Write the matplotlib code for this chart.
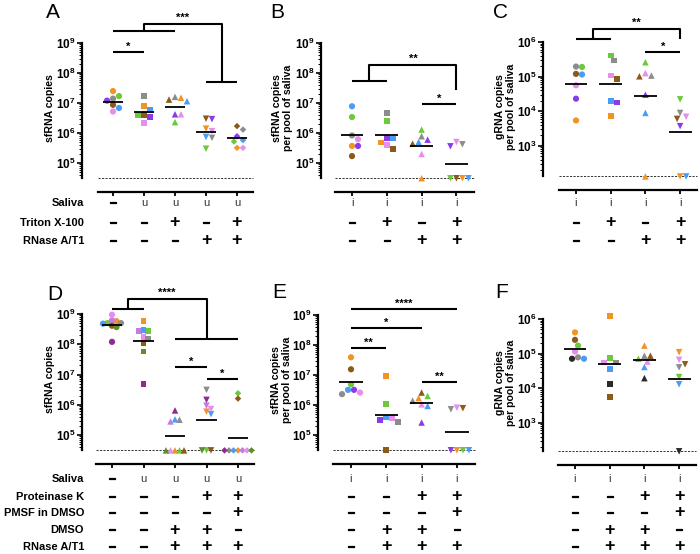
import numpy as np
import matplotlib.pyplot as plt
import matplotlib.patheffects as pe
from matplotlib import transforms
from matplotlib.ticker import LogLocator, FuncFormatter, NullFormatter

plt.rcParams['font.family'] = ['Liberation Sans', 'DejaVu Sans']
plt.rcParams['mathtext.fontset'] = 'custom'
plt.rcParams['mathtext.rm'] = 'Liberation Sans:bold'
plt.rcParams['mathtext.bf'] = 'Liberation Sans:bold'

W, H = 700, 554

# donor colours
grey, brown, orange, green = '#8c8c8c', '#8b5a1a', '#f39324', '#6dc93c'
purple, blue, pink = '#8a3de6', '#4b9cf4', '#e68ded'
violet, olive, magenta, dark = '#c27ce2', '#5f8f2c', '#8f2a90', '#2a2a2a'

donors7 = [grey, brown, orange, green, purple, blue, pink]
donors7_f = [grey, brown, orange, green, dark, blue, pink]
donors9 = [orange, green, violet, blue, pink, grey, brown, olive, magenta]

# detection limits (dashed lines)
lod_A, lod_B, lod_C = 3.1e4, 3.1e4, 1.3e2
lod_D, lod_E, lod_F = 3.1e4, 3.1e4, 1.5e2

# A: sfRNA copies
A_vals = [
    [1.4e7, 8.7e6, 2.5e7, 1.7e7, 1.2e7, 6.8e6, 5.2e6],
    [1.7e7, 3.9e6, 7.8e6, 3.9e6, 3.4e6, 5.8e6, 2.2e6],
    [1.6e7, 1.3e7, 1.5e7, 2.3e6, 4.2e6, 1.15e7, 4.2e6],
    [6.9e5, 3.0e6, 1.4e6, 3.0e5, 2.9e6, 7.4e5, 1.15e6],
    [1.3e6, 1.7e6, 3.2e5, 5.2e5, 7.8e5, 5.8e5, 3.2e5],
]
# B: sfRNA copies per pool of saliva
B_vals = [
    [8.3e5, 1.7e5, 3.7e5, 3.4e6, 3.7e5, 7.8e6, 6.2e5],
    [4.7e6, 3.0e5, 4.8e5, 2.5e6, 6.9e5, 6.5e5, 3.9e5],
    [7.8e5, 4.4e5, lod_B, 1.3e6, 6.0e5, 5.0e5, 2.0e5],
    [4.2e5, lod_B, lod_B, lod_B, 3.6e5, lod_B, 5.0e5],
]
# C: gRNA copies per pool of saliva
C_vals = [
    [1.95e5, 1.2e5, 5.4e3, 1.9e5, 2.3e4, 1.15e5, 5.6e4],
    [2.9e5, 8.5e4, 7.4e3, 4.1e5, 1.8e4, 2.0e4, 1.07e5],
    [1.07e5, 1.02e5, lod_C, 2.6e5, 3.0e4, 8.9e3, 1.26e5],
    [8.9e3, 6.0e3, lod_C, 2.2e4, 3.7e3, lod_C, 6.9e3],
]
# D: sfRNA copies (9 donors)
D_vals = [
    [5.8e8, 5.0e8, 6.2e8, 4.8e8, 9.5e8, 5.0e8, 4.1e8, 3.7e8, 1.2e8],
    [5.8e8, 2.8e8, 2.7e8, 2.9e8, 1.7e8, 1.55e8, 1.1e8, 5.8e7, 4.8e6],
    [lod_D, lod_D, 2.8e5, 3.3e5, lod_D, 3.2e5, lod_D, lod_D, 6.5e5],
    [5.9e5, lod_D, 9.3e5, 4.9e5, 7.2e5, 3.1e6, lod_D, lod_D, 1.45e6],
    [lod_D, 2.4e6, lod_D, lod_D, lod_D, lod_D, 1.6e6, lod_D, lod_D],
]
# E: sfRNA copies per pool of saliva
E_vals = [
    [2.3e6, 1.55e7, 3.9e7, 4.9e6, 3.2e6, 3.2e6, 2.6e6],
    [2.75e5, lod_E, 9.3e6, 1.07e6, 3.2e5, 3.8e5, 3.6e5],
    [1.4e6, 2.6e6, 1.7e6, 2.0e6, 2.6e5, 9.3e5, 1.05e6],
    [7.2e5, 7.8e5, lod_E, lod_E, lod_E, lod_E, 8.1e5],
]
# F: gRNA copies per pool of saliva
F_vals = [
    [7.8e4, 2.5e5, 4.1e5, 1.7e5, 7.1e4, 7.1e4, 1.15e5],
    [5.5e4, 5.6e3, 1.2e6, 7.4e4, 1.3e4, 3.6e4, 5.5e4],
    [8.7e4, 8.7e4, 1.7e5, 7.1e4, 1.95e4, 4.1e4, 5.9e4],
    [4.0e4, 4.9e4, 1.1e5, 2.1e4, lod_F, 1.3e4, 6.6e4],
]

top_rows = ['Saliva', 'Triton X-100', 'RNase A/T1']
A_table = [['–', 'u', 'u', 'u', 'u'], ['–', '–', '+', '–', '+'], ['–', '–', '–', '+', '+']]
BC_table = [['i', 'i', 'i', 'i'], ['–', '+', '–', '+'], ['–', '–', '+', '+']]
bottom_rows = ['Saliva', 'Proteinase K', 'PMSF in DMSO', 'DMSO', 'RNase A/T1']
D_table = [['–', 'u', 'u', 'u', 'u'], ['–', '–', '–', '+', '+'], ['–', '–', '–', '–', '+'],
           ['–', '–', '+', '+', '–'], ['–', '–', '+', '+', '+']]
EF_table = [['i', 'i', 'i', 'i'], ['–', '–', '+', '+'], ['–', '–', '–', '+'],
            ['–', '+', '+', '–'], ['–', '+', '+', '+']]

markers = ['o', 's', '^', 'v', 'D']
msize = {'o': 20, 's': 17, '^': 22, 'v': 22, 'D': 11}

fig = plt.figure(figsize=(W / 100, H / 100), dpi=100)


def make_ax(spine_x, first_tick, step, n, top_px, dec_px, ytop, lod):
    x_left = 1 - (first_tick - spine_x) / step
    x_right = n + 0.5
    w = (x_right - x_left) * step
    h = (np.log10(ytop) - np.log10(lod)) * dec_px
    ax = fig.add_axes([spine_x / W, 1 - (top_px + h) / H, w / W, h / H])
    ax.set_yscale('log')
    ax.set_ylim(lod, ytop)
    ax.set_xlim(x_left, x_right)
    for sp in ['top', 'right']:
        ax.spines[sp].set_visible(False)
    ax.spines['left'].set_linewidth(1.6)
    ax.spines['bottom'].set_linewidth(1.6)
    ax.spines['bottom'].set_position(('outward', 10))
    ax.spines['bottom'].set_bounds(0.5, x_right)
    ax.set_xticks(range(1, n + 1))
    ax.set_xticklabels([])
    ax.tick_params(axis='x', direction='out', length=3, width=1.3)
    ax.yaxis.set_major_locator(LogLocator(base=10, numticks=20))
    ax.yaxis.set_minor_locator(LogLocator(base=10, subs=np.arange(2, 10), numticks=20))
    ax.yaxis.set_major_formatter(FuncFormatter(lambda v, p: r'$\mathbf{10^{%d}}$' % round(np.log10(v))))
    ax.yaxis.set_minor_formatter(NullFormatter())
    ax.tick_params(axis='y', which='major', direction='out', length=3.5, width=1.2, pad=1, labelsize=8.5)
    ax.tick_params(axis='y', which='minor', direction='out', length=2, width=0.7)
    ax.plot([0.5, x_right], [lod, lod], ls=(0, (2.2, 1.4)), lw=0.7, color='#333', clip_on=False)
    ax._step = step
    return ax


def swarm_offsets(ax, xc, vals, d):
    ys = ax.transData.transform(np.column_stack([np.full(len(vals), xc), vals]))[:, 1]
    xs = np.zeros(len(vals))
    placed = []
    for i in np.argsort(-np.asarray(vals), kind='stable'):
        k = 0
        while True:
            cands = [0.0] if k == 0 else [k * d / 2, -k * d / 2]
            ok = None
            for off in cands:
                if all((off - xs[j]) ** 2 + (ys[i] - ys[j]) ** 2 >= (0.99 * d) ** 2 for j in placed):
                    ok = off
                    break
            if ok is not None:
                break
            k += 1
        xs[i] = ok
        placed.append(i)
    return xc + xs / ax._step


def draw_points(ax, groups, colors, d=6):
    for j, vals in enumerate(groups):
        xc = j + 1
        m = markers[j]
        xs = swarm_offsets(ax, xc, vals, d)
        ax.scatter(xs, vals, c=colors, marker=m, s=msize[m], linewidths=0, clip_on=False, zorder=3)
        gm = 10 ** np.mean(np.log10(vals))
        ax.plot([xc - 0.33, xc + 0.33], [gm, gm], color='k', lw=1.3, zorder=4, solid_capstyle='butt')


def star_line(ax, x1, x2, e, txt):
    y = 10 ** e
    ax.plot([x1, x2], [y, y], color='k', lw=1.5, clip_on=False, solid_capstyle='butt')
    ax.annotate(txt, ((x1 + x2) / 2, y), xytext=(0, 1.5), textcoords='offset points',
                ha='center', va='baseline', fontsize=8, fontweight='bold', annotation_clip=False)


def group_bracket(ax, left, el, right, er, etop, txt):
    yl, yr, yt = 10 ** el, 10 ** er, 10 ** etop
    xl, xr = sum(left) / 2, sum(right) / 2
    kw = dict(color='k', lw=1.5, clip_on=False, solid_capstyle='butt')
    ax.plot(left, [yl, yl], **kw)
    if right[0] != right[1]:
        ax.plot(right, [yr, yr], **kw)
    ax.plot([xl, xl, xr, xr], [yl, yt, yt, yr], **kw)
    ax.annotate(txt, ((xl + xr) / 2, yt), xytext=(0, 2.5), textcoords='offset points',
                ha='center', va='baseline', fontsize=8, fontweight='bold', annotation_clip=False)


thick = [pe.withStroke(linewidth=0.9, foreground='k')]


def table(ax, cells, ys_px):
    tr = transforms.blended_transform_factory(ax.transData, fig.transFigure)
    for row, y in zip(cells, ys_px):
        for j, s in enumerate(row):
            if s == '+':
                kw = dict(fontsize=13, fontweight='bold')
            elif s == '–':
                kw = dict(fontsize=9, fontweight='bold', path_effects=thick)
            else:
                kw = dict(fontsize=8, color='#333')
            ax.text(j + 1, 1 - y / H, s, transform=tr, ha='center', va='center', **kw)


def row_labels(names, ys_px):
    for name, y in zip(names, ys_px):
        fig.text(84 / W, 1 - y / H, name, ha='right', va='center', fontsize=8, fontweight='bold')


def ylabel(ax, text, right_px, spine_x):
    ax.set_ylabel(text, fontsize=7.6, fontweight='bold', linespacing=1.15)
    w_px = ax.get_position().width * W
    ax.yaxis.set_label_coords((right_px - spine_x) / w_px, 0.52)


top_y = [203, 223, 241]
bot_y = [479, 497, 513, 530, 547]

# ---- top row ----
axA = make_ax(82, 113, 31, 5, 43, 30, 1e9, lod_A)
draw_points(axA, A_vals, donors7)
star_line(axA, 1, 2, 8.7, '*')
group_bracket(axA, (1, 3), 9.4, (4, 5), 7.7, 9.63, '***')
table(axA, A_table, top_y)
row_labels(top_rows, top_y)
ylabel(axA, 'sfRNA copies', 55, 82)

axB = make_ax(321, 352, 34.8, 4, 43, 30, 1e9, lod_B)
draw_points(axB, B_vals, donors7)
group_bracket(axB, (1, 2), 7.74, (4, 4), 7.43, 8.27, '**')
star_line(axB, 3, 4, 6.98, '*')
table(axB, BC_table, top_y)
ylabel(axB, 'sfRNA copies\nper pool of saliva', 293, 321)

axC = make_ax(543, 576, 34.7, 4, 42, 34.6, 1e6, lod_C)
draw_points(axC, C_vals, donors7)
group_bracket(axC, (1, 2), 6.09, (4, 4), 6.08, 6.37, '**')
star_line(axC, 3, 4, 5.72, '*')
table(axC, BC_table, top_y)
ylabel(axC, 'gRNA copies\nper pool of saliva', 516, 543)

# ---- bottom row ----
axD = make_ax(82, 112, 31.5, 5, 314, 30.25, 1e9, lod_D)
draw_points(axD, D_vals, donors9, d=4.5)
group_bracket(axD, (1, 2), 9.17, (3, 5), 8.17, 9.49, '****')
star_line(axD, 3, 4, 7.24, '*')
star_line(axD, 4, 5, 6.85, '*')
table(axD, D_table, bot_y)
row_labels(bottom_rows, bot_y)
ylabel(axD, 'sfRNA copies', 55, 82)

axE = make_ax(318, 351, 35.3, 4, 315, 30, 1e9, lod_E)
draw_points(axE, E_vals, donors7)
star_line(axE, 1, 4, 9.2, '****')
star_line(axE, 1, 3, 8.56, '*')
star_line(axE, 1, 2, 7.91, '**')
star_line(axE, 3, 4, 6.76, '**')
table(axE, EF_table, bot_y)
ylabel(axE, 'sfRNA copies\nper pool of saliva', 292, 318)

axF = make_ax(543, 575, 34.7, 4, 319, 34.6, 1e6, lod_F)
draw_points(axF, F_vals, donors7_f)
table(axF, EF_table, bot_y)
ylabel(axF, 'gRNA copies\nper pool of saliva', 516, 543)

# panel letters
for letter, x, y in [('A', 46, 18), ('B', 270, 18), ('C', 493, 18),
                     ('D', 47, 300), ('E', 272, 298), ('F', 495, 298)]:
    fig.text(x / W, 1 - y / H, letter, fontsize=15, va='baseline')

fig.savefig('out.png', dpi=100)
